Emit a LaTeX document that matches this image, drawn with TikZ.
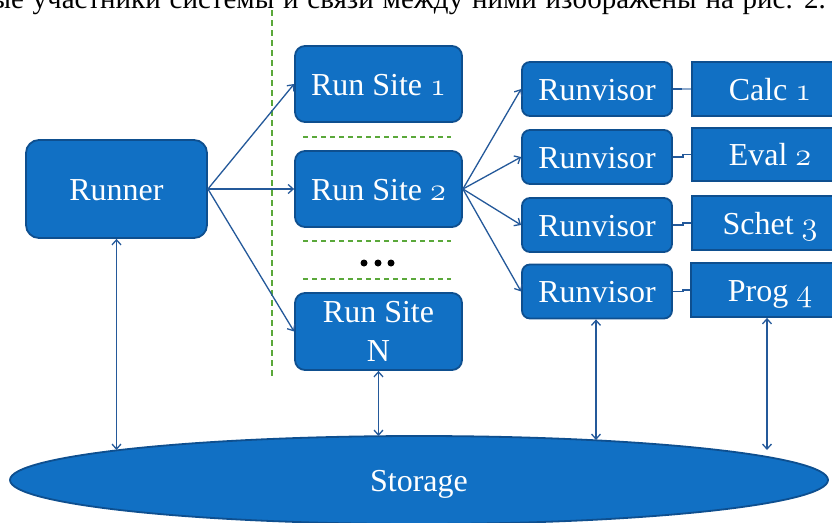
\documentclass[tikz,border=0pt]{standalone}
\usepackage{fontspec}
\setmainfont{Liberation Serif}
\usetikzlibrary{arrows.meta,shapes.geometric}
\definecolor{boxfill}{HTML}{1170C4}
\definecolor{boxedge}{HTML}{0E4F8F}
\definecolor{arrowc}{HTML}{24599A}
\definecolor{dashg}{HTML}{5AA83A}
\definecolor{lightc}{HTML}{8DA9CC}
\newcommand\osn[1]{\scalebox{1.3}{\usefont{OML}{cmm}{m}{it}#1}}
\begin{document}
\begin{tikzpicture}[x=1pt,y=-1pt,
  box/.style={draw=boxedge, line width=1.8pt, fill=boxfill, text=white,
    font=\fontsize{32}{39}\selectfont, inner sep=0pt},
  one/.style={text height=22pt, text depth=0pt},
  rbox/.style={box, rounded corners=10pt},
  sbox/.style={box, rounded corners=0pt},
  arr/.style={draw=arrowc, line width=1.3pt, -{Straight Barb[length=5pt,width=9pt]}},
  darr/.style={draw=arrowc, line width=1.3pt, {Straight Barb[length=5pt,width=9pt]}-{Straight Barb[length=5pt,width=9pt]}},
  conn/.style={draw=arrowc, line width=1.5pt},
  gdash/.style={draw=dashg, line width=2.2pt, dash pattern=on 6pt off 4pt},
  hdash/.style={draw=dashg, line width=1.8pt, dash pattern=on 5pt off 4pt},
  dot/.style={circle, fill=black, inner sep=0pt, minimum size=7pt}]
\useasboundingbox (0,0) rectangle (832,522);
\fill[white] (0,0) rectangle (832,522);

% top line of running text (cut off by the page edge)
\node[anchor=base east, inner sep=0pt, font=\fontsize{29}{33}\selectfont] (txt) at (826,9)
  {\spaceskip=8.8pt Основные участники системы и связи между ними изображены на рис. 2.};

% dashed separators
\coordinate (gv1) at (272,10);
\coordinate (gv2) at (272,378);
\draw[gdash] (gv1) -- (gv2);
\coordinate (h1a) at (303,137); \coordinate (h1b) at (451,137);
\coordinate (h2a) at (303,241); \coordinate (h2b) at (451,241);
\coordinate (h3a) at (303,279); \coordinate (h3b) at (451,279);
\draw[hdash] (h1a) -- (h1b);
\draw[hdash] (h2a) -- (h2b);
\draw[hdash] (h3a) -- (h3b);
\node[dot] (d1) at (364,263) {};
\node[dot] (d2) at (378,263) {};
\node[dot] (d3) at (391,263) {};

% storage
\node[ellipse, draw=boxedge, line width=1.8pt, fill=boxfill, text=white,
  minimum width=818pt, minimum height=88pt, inner sep=0pt,
  font=\fontsize{32}{39}\selectfont, text height=22pt, text depth=0pt] (storage) at (419,480) {Storage};

% main boxes
\node[rbox, one, rounded corners=13pt, minimum width=181pt, minimum height=98pt] (runner) at (116.5,189) {Runner};
\node[rbox, one, minimum width=167pt, minimum height=76pt] (rs1) at (378.5,84) {Run Site \osn{1}};
\node[rbox, one, minimum width=167pt, minimum height=76pt] (rs2) at (378.5,189) {Run Site \osn{2}};
\node[rbox, align=center, minimum width=167pt, minimum height=77pt] (rsn) at (378.5,331.5) {Run Site\\N};

\foreach \i/\y in {1/89,2/157,3/225,4/291.5}{
  \node[rbox, one, rounded corners=8pt, minimum width=150pt, minimum height=54pt] (rv\i) at (597,\y) {Runvisor};
}
\node[sbox, one, minimum width=156pt, minimum height=54pt] (c1) at (770,89) {Calc \osn{1}};
\node[sbox, one, minimum width=156pt, minimum height=53pt] (c2) at (770,154.5) {Eval \osn{2}};
\node[sbox, one, minimum width=156pt, minimum height=54pt] (c3) at (770,223) {Schet \osn{3}};
\node[sbox, one, minimum width=158pt, minimum height=54pt] (c4) at (770,290) {Prog \osn{4}};

% connectors
\draw[arr] (runner.east) -- (rs1.west);
\draw[arr] (runner.east) -- (rs2.west);
\draw[arr] (runner.east) -- (rsn.west);
\foreach \i in {1,...,4}{
  \draw[arr] (rs2.east) -- (rv\i.west);
}
\coordinate (m1) at (682,89);
\draw[conn] (rv1.east) -- (m1);
\draw[conn, draw=lightc] (m1) -- (c1.west);
\foreach \i in {2,3,4}{
  \draw[conn] (rv\i.east) -- ++(10,0) |- (c\i.west);
}

% storage links
\coordinate (s1) at (116.5,450);
\coordinate (s2) at (378.5,436);
\coordinate (s3) at (596,440);
\coordinate (s4) at (767,450);
\draw[darr] (runner.south) -- (s1);
\draw[darr] (rsn.south) -- (s2);
\draw[darr] (rv4.south -| s3) -- (s3);
\draw[darr] (c4.south -| s4) -- (s4);
\end{tikzpicture}
\end{document}
